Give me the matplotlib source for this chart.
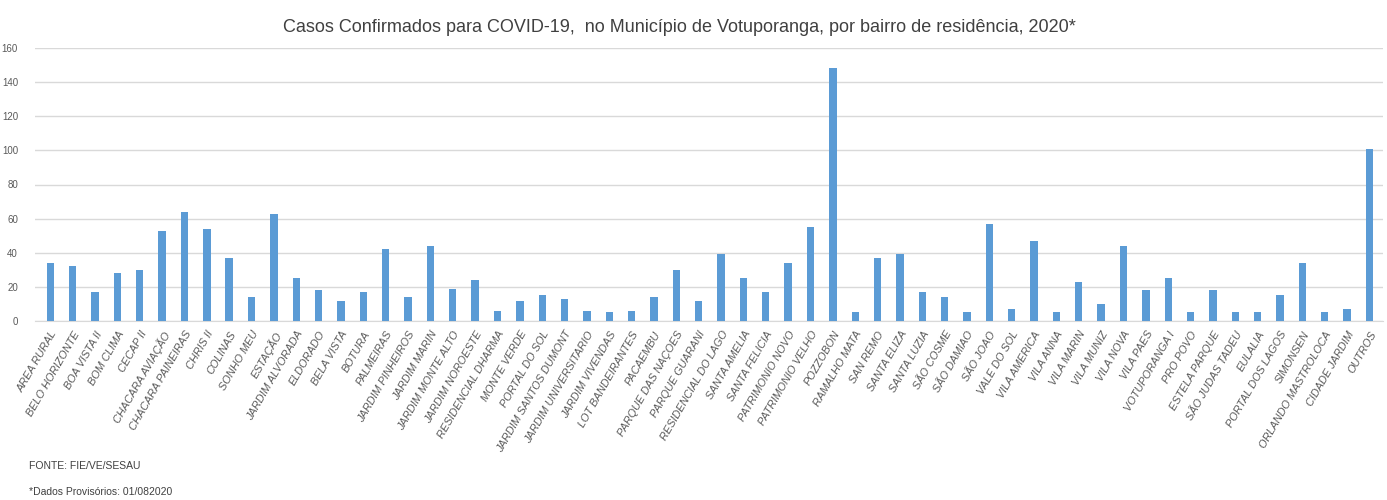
# -*- coding: utf-8 -*-
"""Casos confirmados de COVID-19 por bairro, Votuporanga 2020."""
import matplotlib
matplotlib.use('Agg')
import matplotlib.pyplot as plt

bairros = [
    'AREA RURAL', 'BELO HORIZONTE', 'BOA VISTA II', 'BOM CLIMA', 'CECAP II',
    'CHACARA AVIAÇÃO', 'CHACARA PAINEIRAS', 'CHRIS II', 'COLINAS', 'SONHO MEU',
    'ESTAÇÃO', 'JARDIM ALVORADA', 'ELDORADO', 'BELA VISTA', 'BOTURA',
    'PALMEIRAS', 'JARDIM PINHEIROS', 'JARDIM MARIN', 'JARDIM MONTE ALTO',
    'JARDIM NOROESTE', 'RESIDENCIAL DHARMA', 'MONTE VERDE', 'PORTAL DO SOL',
    'JARDIM SANTOS DUMONT', 'JARDIM UNIVERSITARIO', 'JARDIM VIVENDAS',
    'LOT BANDEIRANTES', 'PACAEMBU', 'PARQUE DAS NAÇOES', 'PARQUE GUARANI',
    'RESIDENCIAL DO LAGO', 'SANTA AMELIA', 'SANTA FELICIA', 'PATRIMONIO NOVO',
    'PATRIMONIO VELHO', 'POZZOBON', 'RAMALHO MATA', 'SAN REMO', 'SANTA ELIZA',
    'SANTA LUZIA', 'SÃO COSME', 'SÃO DAMIAO', 'SÃO JOAO', 'VALE DO SOL',
    'VILA AMERICA', 'VILA ANNA', 'VILA MARIN', 'VILA MUNIZ', 'VILA NOVA',
    'VILA PAES', 'VOTUPORANGA I', 'PRO POVO', 'ESTELA PARQUE',
    'SÃO JUDAS TADEU', 'EULALIA', 'PORTAL DOS LAGOS', 'SIMONSEN',
    'ORLANDO MASTROLOCA', 'CIDADE JARDIM', 'OUTROS',
]
casos = [
    34, 32, 17, 28, 30, 53, 64, 54, 37, 14,
    63, 25, 18, 12, 17, 42, 14, 44, 19, 24,
    6, 12, 15, 13, 6, 5, 6, 14, 30, 12,
    39, 25, 17, 34, 55, 148, 5, 37, 39, 17,
    14, 5, 57, 7, 47, 5, 23, 10, 44, 18,
    25, 5, 18, 5, 5, 15, 34, 5, 7, 101,
]

plt.rcParams['font.family'] = ['Liberation Sans', 'DejaVu Sans']

fig = plt.figure(figsize=(13.87, 5.0), dpi=100)
ax = fig.add_axes([0.025, 0.358, 0.972, 0.546])

x = range(len(bairros))
ax.bar(x, casos, width=0.33, color='#5B9BD5', zorder=3)

ax.set_ylim(0, 160)
ax.set_yticks(range(0, 161, 20))
ax.set_xlim(-0.7, len(bairros) - 0.4)
ax.yaxis.grid(True, color='#D9D9D9', linewidth=1.0, zorder=0)
for side in ['top', 'right', 'left']:
    ax.spines[side].set_visible(False)
ax.spines['bottom'].set_color('#D9D9D9')
ax.tick_params(axis='both', length=0, labelsize=7, labelcolor='#595959')
ax.tick_params(axis='y', pad=12)
ax.tick_params(axis='x', pad=6)
ax.set_xticks(list(x))
ax.set_xticklabels(bairros, rotation=60, ha='right', rotation_mode='anchor',
                   fontsize=7.8, style='italic', color='#595959')

fig.text(0.49, 0.945,
         'Casos Confirmados para COVID-19,  no Município de Votuporanga, '
         'por bairro de residência, 2020*',
         ha='center', va='center', fontsize=13, color='#404040')
fig.text(0.021, 0.068, 'FONTE: FIE/VE/SESAU', fontsize=7.5, color='#404040',
         va='center')
fig.text(0.021, 0.016, '*Dados Provisórios: 01/082020', fontsize=7.5,
         color='#404040', va='center')

fig.savefig('out.png', dpi=100)
